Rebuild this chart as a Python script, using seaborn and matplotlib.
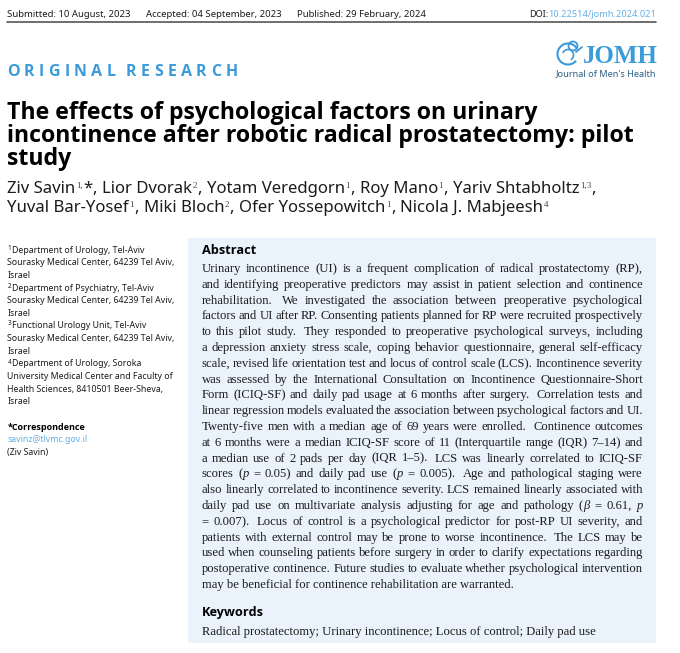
import matplotlib
matplotlib.use("Agg")
import matplotlib.pyplot as plt
import seaborn as sns
from matplotlib.patches import Rectangle, Arc, Circle

# Text content
header_items = ["Submitted: 10 August, 2023", "Accepted: 04 September, 2023", "Published: 29 February, 2024"]
doi_label = "DOI:"
doi_link = "10.22514/jomh.2024.021"
section_label = "ORIGINAL RESEARCH"
journal_short = "JOMH"
journal_long = "Journal of Men's Health"
title_lines = [
    "The effects of psychological factors on urinary",
    "incontinence after robotic radical prostatectomy: pilot",
    "study",
]
author_lines = [
    [("Ziv Savin", "1,", True), ("Lior Dvorak", "2", False), ("Yotam Veredgorn", "1", False),
     ("Roy Mano", "1", False), ("Yariv Shtabholtz", "1,3", False)],
    [("Yuval Bar-Yosef", "1", False), ("Miki Bloch", "2", False), ("Ofer Yossepowitch", "1", False),
     ("Nicola J. Mabjeesh", "4", False)],
]
affil_lines = [
    ("1", "Department of Urology, Tel-Aviv"),
    ("", "Sourasky Medical Center, 64239 Tel Aviv,"),
    ("", "Israel"),
    ("2", "Department of Psychiatry, Tel-Aviv"),
    ("", "Sourasky Medical Center, 64239 Tel Aviv,"),
    ("", "Israel"),
    ("3", "Functional Urology Unit, Tel-Aviv"),
    ("", "Sourasky Medical Center, 64239 Tel Aviv,"),
    ("", "Israel"),
    ("4", "Department of Urology, Soroka"),
    ("", "University Medical Center and Faculty of"),
    ("", "Health Sciences, 8410501 Beer-Sheva,"),
    ("", "Israel"),
]
corr_heading = "*Correspondence"
corr_email = "savinz@tlvmc.gov.il"
corr_name = "(Ziv Savin)"
abstract_heading = "Abstract"
# |...| marks italic parts, a double space is a wider sentence gap
abstract_lines = [
    "Urinary incontinence (UI) is a frequent complication of radical prostatectomy (RP),",
    "and identifying preoperative predictors may assist in patient selection and continence",
    "rehabilitation.  We investigated the association between preoperative psychological",
    "factors and UI after RP. Consenting patients planned for RP were recruited prospectively",
    "to this pilot study.  They responded to preoperative psychological surveys, including",
    "a depression anxiety stress scale, coping behavior questionnaire, general self-efficacy",
    "scale, revised life orientation test and locus of control scale (LCS). Incontinence severity",
    "was assessed by the International Consultation on Incontinence Questionnaire-Short",
    "Form (ICIQ-SF) and daily pad usage at 6 months after surgery.  Correlation tests and",
    "linear regression models evaluated the association between psychological factors and UI.",
    "Twenty-five men with a median age of 69 years were enrolled.  Continence outcomes",
    "at 6 months were a median ICIQ-SF score of 11 (Interquartile range (IQR) 7\u201314) and",
    "a median use of 2 pads per day (IQR 1\u20135).  LCS was linearly correlated to ICIQ-SF",
    "scores (|p| = 0.05) and daily pad use (|p| = 0.005).  Age and pathological staging were",
    "also linearly correlated to incontinence severity. LCS remained linearly associated with",
    "daily pad use on multivariate analysis adjusting for age and pathology (|\u03b2| = 0.61, |p|",
    "= 0.007).  Locus of control is a psychological predictor for post-RP UI severity, and",
    "patients with external control may be prone to worse incontinence.  The LCS may be",
    "used when counseling patients before surgery in order to clarify expectations regarding",
    "postoperative continence. Future studies to evaluate whether psychological intervention",
    "may be beneficial for continence rehabilitation are warranted.",
]
keywords_heading = "Keywords"
keywords_text = "Radical prostatectomy; Urinary incontinence; Locus of control; Daily pad use"

INK = "#1c1c1c"
BLUE = "#3b9bd9"
LINK = "#62b0e4"
BOX = "#eaf3fb"
SANS = "Noto Sans"
BOLD = "Open Sans"
SERIF = "Liberation Serif"
BODY = 9.05
AUTHOR = 12.05

sns.set_theme(style="white")

fig = plt.figure(figsize=(6.8, 6.53), dpi=100, facecolor="white")
ax = fig.add_axes([0, 0, 1, 1])
ax.set_xlim(0, 680)
ax.set_ylim(653, 0)
ax.axis("off")
renderer = fig.canvas.get_renderer()


def put(x, y, s, **kw):
    kw.setdefault("color", INK)
    kw.setdefault("family", SANS)
    return ax.text(x, y, s, va="baseline", **kw)


def width(t):
    return t.get_window_extent(renderer).width


def put_width(x, y, s, **kw):
    return width(put(x, y, s, **kw))


def serif_runs(word):
    parts = word.split("|")
    return [(p, i % 2 == 1) for i, p in enumerate(parts) if p]


def justified(x0, x1, y, line, size):
    # sentence gaps count for 1.6 of a normal gap
    chunks = line.split("  ")
    made = []
    total = 0
    weights = 0
    for c, chunk in enumerate(chunks):
        words = chunk.split(" ")
        for k, w in enumerate(words):
            pieces = []
            w_width = 0
            for s, italic in serif_runs(w):
                t = put(0, y, s, family=SERIF, fontsize=size, style="italic" if italic else "normal")
                pieces.append((t, w_width))
                w_width += width(t)
            weight = 0
            if k < len(words) - 1:
                weight = 1
            elif c < len(chunks) - 1:
                weight = 1.6
            made.append((pieces, w_width, weight))
            total += w_width
            weights += weight
    gap = (x1 - x0 - total) / weights
    x = x0
    for pieces, w_width, weight in made:
        for t, off in pieces:
            t.set_x(x + off)
        x += w_width + gap * weight


# header strip
for s, x in zip(header_items, [7, 146, 297]):
    put(x, 17, s, fontsize=6.85)
dw = width(put(656, 17, doi_link, fontsize=6.6, color=LINK, ha="right"))
put(656 - dw, 17, doi_label, fontsize=6.6, ha="right")
ax.plot([7, 656], [22, 22], color="#555555", lw=1.2)

# section label, letter spaced
x = 7
for ch in section_label:
    if ch == " ":
        x += 6
        continue
    x += put_width(x, 76, ch, family=BOLD, fontsize=11.5, weight="bold", color=BLUE) + 4.35

# logo
put(583, 63, journal_short, family=SERIF, fontsize=18, weight="bold", color=BLUE)
put(656, 76, journal_long, fontsize=6.6, ha="right", color="#2b5f85")
ax.add_patch(Arc((568, 54), 21, 21, theta1=40, theta2=330, color=BLUE, lw=1.5))
ax.add_patch(Arc((568, 55), 11, 11, theta1=200, theta2=60, color=BLUE, lw=1.2))
ax.add_patch(Circle((573, 46), 4.5, fill=False, ec=BLUE, lw=1.3))
ax.plot([576, 582], [52, 47], color=BLUE, lw=1.3)

# title
for s, y in zip(title_lines, [119, 142, 165]):
    put(7, y, s, family=BOLD, fontsize=16.7, weight="bold", color="black")

# authors
for line, y in zip(author_lines, [193, 212]):
    x = 7
    for i, (name, sup, star) in enumerate(line):
        x += put_width(x, y, name, fontsize=AUTHOR)
        x += put_width(x + 0.5, y - 5, sup, fontsize=6.5, family=SERIF, color="#444444") + 1
        if star:
            x += put_width(x, y, "*", fontsize=AUTHOR)
        if i < len(line) - 1 or y == 193:
            x += put_width(x, y, ",", fontsize=AUTHOR) + 5

# affiliations
affil_y = [253, 265, 278, 291, 303, 316, 328, 341, 354, 366.5, 379, 392, 404.5]
for (mark, s), y in zip(affil_lines, affil_y):
    x = 7.3
    if mark:
        x += put_width(x + 0.5, y - 3, mark, fontsize=4.6) + 1.2
    put(x, y, s, fontsize=6.3)
put(7.3, 430, corr_heading, family=BOLD, fontsize=6.5, weight="bold", color="black")
put(7.3, 442.5, corr_email, fontsize=6.3, color=LINK)
put(7.3, 455, corr_name, fontsize=6.3)

# abstract box
ax.add_patch(Rectangle((188, 238), 468, 405, facecolor=BOX, edgecolor="none", zorder=0))
put(201.7, 254, abstract_heading, family=BOLD, fontsize=9.2, weight="bold", color="black")
y0 = 272
for i, line in enumerate(abstract_lines):
    y = y0 + 15.8 * i
    if i == len(abstract_lines) - 1:
        put(201.7, y, line, family=SERIF, fontsize=BODY)
    else:
        justified(201.7, 643, y, line, BODY)
put(201.7, 616, keywords_heading, family=BOLD, fontsize=9.2, weight="bold", color="black")
put(201.7, 635, keywords_text, family=SERIF, fontsize=BODY)

fig.savefig("out.png", dpi=100, facecolor="white")
